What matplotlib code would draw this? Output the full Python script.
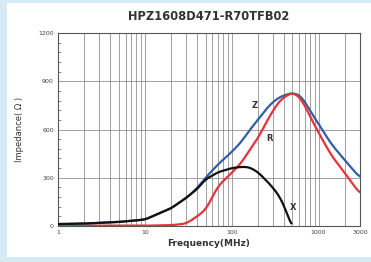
import matplotlib
matplotlib.use("Agg")
import matplotlib.pyplot as plt
from matplotlib.patches import Rectangle
import numpy as np

# Data (frequency in MHz, impedance in ohm)
freq_z = [1, 2, 5, 10, 20, 30, 40, 50, 70, 100, 130, 160, 200, 270, 350, 450, 530, 650, 800, 1000, 1400, 2000, 3000]
z_vals = [12, 15, 25, 40, 110, 175, 235, 300, 385, 460, 525, 595, 660, 750, 800, 822, 828, 800, 715, 635, 510, 410, 300]

freq_r = [1, 5, 10, 20, 30, 40, 50, 70, 100, 130, 160, 200, 270, 350, 450, 530, 650, 800, 1000, 1400, 2000, 3000]
r_vals = [2, 2, 2, 5, 15, 60, 100, 250, 330, 395, 471, 545, 678, 775, 820, 828, 780, 680, 580, 440, 330, 200]

freq_x = [1, 2, 5, 10, 20, 30, 40, 50, 70, 100, 130, 160, 200, 270, 350, 420, 485]
x_vals = [12, 15, 25, 40, 110, 175, 230, 290, 335, 360, 368, 365, 335, 265, 190, 100, 0]

title = "HPZ1608D471-R70TFB02"
xticks = [1, 10, 100, 1000, 3000]
yticks = [0, 300, 600, 900, 1200]


def smooth(f, v, n=400, k=13):
    # linear interpolation in log-frequency, then a short moving average
    lf = np.log10(f)
    xs = np.linspace(lf[0], lf[-1], n)
    ys = np.interp(xs, lf, v)
    pad = np.pad(ys, (k // 2, k // 2), mode="edge")
    ys = np.convolve(pad, np.ones(k) / k, mode="valid")
    return 10 ** xs, ys


fig = plt.figure(figsize=(3.71, 2.62), dpi=100)
fig.patch.set_facecolor("#d4eaf4")
fig.patches.append(Rectangle((7 / 371, 1 - 257 / 262), 1 - 7 / 371, (257 - 3) / 262,
                             transform=fig.transFigure, facecolor="white",
                             edgecolor="none", zorder=-5))

ax = fig.add_axes([58 / 371, 1 - 226 / 262, (360 - 58) / 371, (226 - 33) / 262])
ax.set_zorder(2)
ax.set_xscale("log")
ax.set_xlim(1, 3000)
ax.set_ylim(0, 1200)

fx, fz = smooth(freq_z, z_vals)
ax.plot(fx, fz, color="#2f5fa8", lw=1.6, zorder=3)
fx, fr = smooth(freq_r, r_vals)
ax.plot(fx, fr, color="#e8323a", lw=1.6, zorder=4)
fx, fxv = smooth(freq_x, x_vals)
ax.plot(fx, fxv, color="#111111", lw=1.6, zorder=5)

ax.text(184, 752, "Z", fontsize=6, fontweight="bold", color="#333333", ha="center", va="center")
ax.text(273, 545, "R", fontsize=6, fontweight="bold", color="#333333", ha="center", va="center")
ax.text(505, 112, "X", fontsize=6, fontweight="bold", color="#333333", ha="center", va="center")

ax.set_xticks(xticks)
ax.set_xticklabels([str(t) for t in xticks])
ax.set_yticks(yticks)
ax.set_yticklabels([str(t) for t in yticks])
ax.set_yticks(np.arange(0, 1201, 60), minor=True)
ax.tick_params(axis="both", which="both", labelsize=4.5, length=0, pad=3, colors="#444444")
ax.tick_params(axis="y", which="minor", length=2, direction="in", color="#777777")
ax.tick_params(axis="x", which="minor", labelbottom=False)

ax.grid(True, which="both", axis="x", color="#7a7a7a", lw=0.5)
ax.grid(True, which="major", axis="y", color="#7a7a7a", lw=0.5)
for s in ax.spines.values():
    s.set_color("#555555")
    s.set_linewidth(0.8)

ax.set_title(title, fontsize=8.3, fontweight="bold", color="#333333", pad=9)
ax.set_xlabel("Frequency(MHz)", fontsize=6.5, fontweight="bold", color="#333333", labelpad=3)
ax.set_ylabel("Impedance( \u03a9 )", fontsize=6, color="#333333", labelpad=10)

fig.savefig("out.png", dpi=100, facecolor=fig.get_facecolor())
